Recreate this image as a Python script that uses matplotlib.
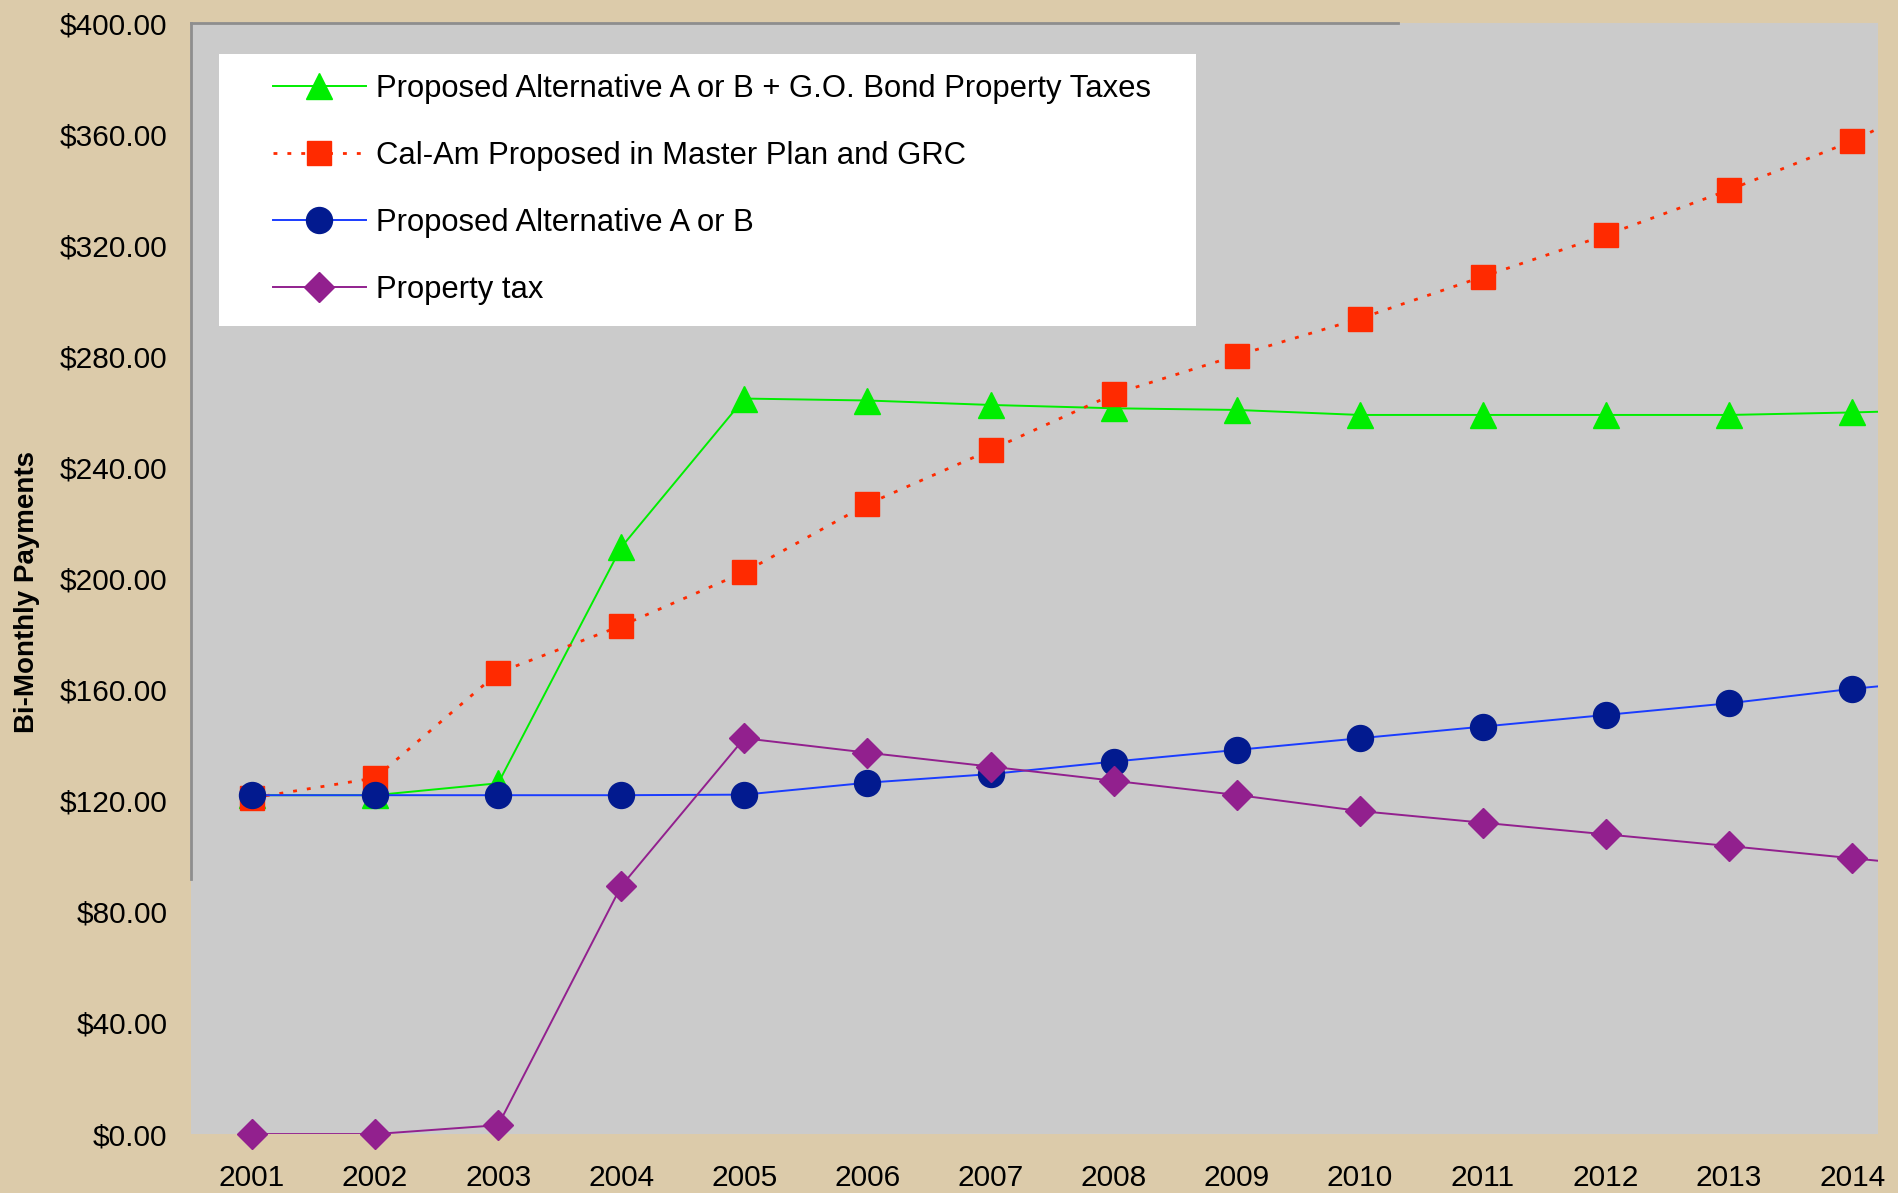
import matplotlib
matplotlib.use('Agg')
import matplotlib.pyplot as plt
from matplotlib.lines import Line2D
from matplotlib.patches import Rectangle
import numpy as np

plt.rcParams['font.family'] = ['Liberation Sans', 'DejaVu Sans']

# years shown on the axis (the lines run on past 2014 and get cut at the edge)
years = [2001, 2002, 2003, 2004, 2005, 2006, 2007, 2008, 2009, 2010, 2011, 2012, 2013, 2014, 2015]

alt_ab_go = [122, 122, 126.3, 211.3, 264.8, 264.1, 262.5, 261.3, 260.7, 258.9, 258.9, 258.9, 258.9, 259.8, 261]
calam = [121, 128.2, 166.1, 183.0, 202.3, 226.8, 246.3, 266.4, 280.3, 293.6, 308.7, 323.7, 339.9, 357.5, 379]
alt_ab = [122, 122, 122, 122, 122.2, 126.5, 129.6, 134.1, 138.3, 142.5, 146.7, 150.9, 155.1, 160.3, 164.5]
prop_tax = [0, 0, 3.2, 89.3, 142.5, 137.3, 132.3, 127.2, 122.1, 116.3, 112.1, 107.9, 103.7, 99.3, 95]

labels = ['Proposed Alternative A or B + G.O. Bond Property Taxes',
          'Cal-Am Proposed in Master Plan and GRC',
          'Proposed Alternative A or B',
          'Property tax']

yticks = [0, 40, 80, 120, 160, 200, 240, 280, 320, 360, 400]
xticks = years[:-1]

bg = '#dccbaa'
fig = plt.figure(figsize=(18.98, 11.93), dpi=100, facecolor=bg)
ax = fig.add_axes([0.1006, 0.0494, 0.8889, 0.9313])
ax.set_facecolor('#cbcbcb')

styles = [
    # data, line colour, line style, marker, marker face, marker size
    (alt_ab_go, '#00ee00', '-', '^', '#00ee00', 18.5),
    (calam, '#ff2a00', (0, (1.4, 3.6)), 's', '#ff2a00', 17.3),
    (alt_ab, '#1a3cff', '-', 'o', '#021a8f', 18.7),
    (prop_tax, '#92208e', '-', 'D', '#92208e', 15.0),
]

handles = []
for i, (vals, lc, ls, mk, mfc, ms) in enumerate(styles):
    z = 3 + i * 0.1
    lw = 2.0 if ls != '-' else 1.4
    ax.plot(years, vals, color=lc, linestyle=ls, linewidth=lw, zorder=z)
    ax.plot(years[:-1], vals[:-1], linestyle='none', marker=mk, markersize=ms,
            markerfacecolor=mfc, markeredgecolor=mfc, zorder=z + 0.05, clip_on=False)
    handles.append(Line2D([], [], color=lc, linestyle=ls, linewidth=lw, marker=mk,
                          markersize=ms, markerfacecolor=mfc, markeredgecolor=mfc))

ax.set_xlim(2000.504, 2014.21)
ax.set_ylim(0, 400)
ax.set_xticks(xticks)
ax.set_xticklabels([str(y) for y in xticks])
ax.set_yticks(yticks)
ax.set_yticklabels(['$%.2f' % v for v in yticks])
ax.tick_params(axis='both', length=0, labelsize=21.5)
ax.tick_params(axis='y', pad=17)
ax.tick_params(axis='x', pad=21.5)

for s in ['right', 'bottom']:
    ax.spines[s].set_visible(False)
ax.spines['left'].set_color('#8e8e8e')
ax.spines['left'].set_linewidth(2)
ax.spines['left'].set_bounds(92, 400)
ax.spines['top'].set_color('#8e8e8e')
ax.spines['top'].set_linewidth(2)
ax.spines['top'].set_bounds(2000.504, 2010.31)

# white legend panel
ax.add_patch(Rectangle((0.0166, 0.727), 0.579, 0.245, transform=ax.transAxes,
                       facecolor='white', edgecolor='none', zorder=4))
leg = ax.legend(handles, labels, loc='upper left', bbox_to_anchor=(0.0486, 0.9545),
                frameon=False, fontsize=22.3, borderpad=0, borderaxespad=0,
                handlelength=3.0, handletextpad=0.33, labelspacing=1.2, numpoints=1)
leg.set_zorder(5)

fig.text(0.014, 0.504, 'Bi-Monthly Payments', rotation=90, fontsize=20,
         fontweight='bold', ha='center', va='center')

fig.savefig('out.png', dpi=100, facecolor=bg)
